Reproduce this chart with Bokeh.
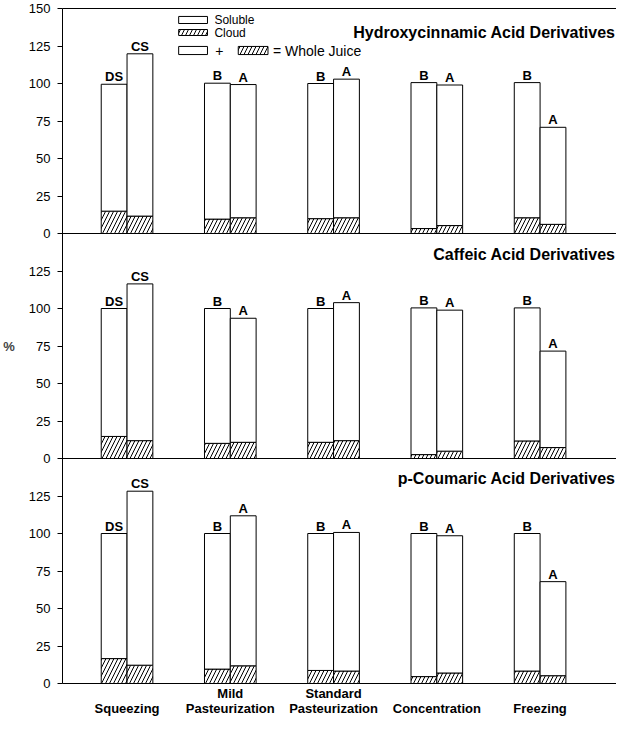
from bokeh.plotting import figure
from bokeh.models import (ColumnDataSource, FixedTicker, LinearAxis, Range1d,
                          Label, LabelSet, BoxAnnotation, Span)
from bokeh.core.properties import value
from bokeh.embed import file_html
from bokeh.resources import INLINE

# ---------------- data ----------------
stages = [" \nSqueezing", "Mild\nPasteurization", "Standard\nPasteurization",
          " \nConcentration", " \nFreezing"]
titles = ["Hydroxycinnamic Acid Derivatives", "Caffeic Acid Derivatives",
          "p-Coumaric Acid Derivatives"]
before_letters = ["DS", "B", "B", "B", "B"]
after_letters = ["CS", "A", "A", "A", "A"]
y_tick_values = [0, 25, 50, 75, 100, 125]

hca_before_total = [99.5, 100.2, 100.0, 100.6, 100.6]
hca_before_cloud = [14.9, 9.6, 9.9, 3.3, 10.5]
hca_after_total = [119.8, 99.3, 102.9, 99.0, 70.8]
hca_after_cloud = [11.6, 10.5, 10.5, 5.3, 6.1]

caf_before_total = [100.0, 100.0, 100.0, 100.4, 100.4]
caf_before_cloud = [14.7, 10.1, 10.8, 2.6, 11.7]
caf_after_total = [116.4, 93.5, 103.9, 98.9, 71.6]
caf_after_cloud = [11.9, 10.8, 11.9, 4.9, 7.3]

pcou_before_total = [100.0, 100.0, 100.0, 100.0, 100.0]
pcou_before_cloud = [16.6, 9.6, 8.7, 4.6, 8.3]
pcou_after_total = [128.2, 111.8, 100.7, 98.5, 67.9]
pcou_after_cloud = [12.2, 11.8, 8.3, 7.0, 5.2]

panels = [
    (hca_before_total, hca_before_cloud, hca_after_total, hca_after_cloud),
    (caf_before_total, caf_before_cloud, caf_after_total, caf_after_cloud),
    (pcou_before_total, pcou_before_cloud, pcou_after_total, pcou_after_cloud),
]

# ---------------- styling ----------------
FONT = "Liberation Sans"
YMAX = 150          # each panel spans 0..150
NP = len(panels)
X0, X1 = -0.625, 4.74
BW = 0.25
HATCH = dict(hatch_pattern="/", hatch_scale=8, hatch_color="black",
             hatch_weight=1, hatch_alpha=1.0)

p = figure(width=616, height=718, x_range=Range1d(X0, X1),
           y_range=Range1d(0, NP * YMAX), output_backend="svg",
           toolbar_location=None, x_axis_location=None,
           min_border_left=58, min_border_right=0,
           min_border_top=8, min_border_bottom=33)
p.outline_line_color = None
p.grid.visible = False
p.background_fill_color = "white"
p.border_fill_color = "white"

# one stacked range per panel (panel 0 on top)
names = []
for k in range(NP):
    off = (NP - 1 - k) * YMAX
    nm = "panel%d" % k
    p.extra_y_ranges[nm] = Range1d(-off, NP * YMAX - off)
    names.append(nm)

# left axis covering the three panels
ticks, over = [], {}
for k in range(NP):
    for v in y_tick_values:
        t = k * YMAX + v
        ticks.append(t)
        over[t] = str(v)
ticks.append(NP * YMAX)
over[NP * YMAX] = str(YMAX)
yax = p.yaxis[0]
yax.ticker = FixedTicker(ticks=ticks)
yax.major_label_overrides = over
yax.major_tick_out = 5
yax.major_tick_in = 0
yax.minor_tick_out = 0
yax.minor_tick_in = 0
yax.major_label_standoff = 7
yax.major_label_text_font = FONT
yax.major_label_text_font_size = "13px"
yax.major_label_text_color = "black"
yax.axis_line_color = "black"
yax.major_tick_line_color = "black"
yax.axis_label = "%"
yax.axis_label_orientation = "horizontal"
yax.axis_label_text_font = FONT
yax.axis_label_text_font_size = "13px"
yax.axis_label_text_font_style = "bold"
yax.axis_label_standoff = 11

# top frame line
p.add_layout(LinearAxis(ticker=FixedTicker(ticks=[]), major_label_text_font_size="0px",
                        major_tick_out=0, major_tick_in=0, minor_tick_out=0,
                        minor_tick_in=0, major_label_standoff=0,
                        axis_line_color="black"), "above")
# bottom axis with stage names
p.add_layout(LinearAxis(ticker=FixedTicker(ticks=list(range(len(stages)))),
                        major_label_overrides={i: s for i, s in enumerate(stages)},
                        major_tick_out=0, major_tick_in=0, minor_tick_out=0,
                        minor_tick_in=0, major_label_standoff=2,
                        major_label_text_font=FONT,
                        major_label_text_font_size="13px",
                        major_label_text_font_style="bold",
                        major_label_text_line_height=1.0,
                        major_label_text_color="black",
                        axis_line_color="black"), "below")

title_y = [134, 136, 137]
xs = list(range(len(stages)))
for k in range(NP):
    nm = names[k]
    # zero line of the upper panels
    if k < NP - 1:
        p.add_layout(Span(location=0, dimension="width", y_range_name=nm,
                          line_color="black", line_width=1))
    bt, bc, at, ac = panels[k]
    src = ColumnDataSource(dict(
        xb=[x - BW / 2 for x in xs], xa=[x + BW / 2 for x in xs],
        bt=bt, bc=bc, at=at, ac=ac,
        lb=before_letters, la=after_letters))
    for xk, tk, ck in (("xb", "bt", "bc"), ("xa", "at", "ac")):
        p.vbar(x=xk, width=BW, bottom=0, top=ck, source=src, y_range_name=nm,
               fill_color="white", line_color="black", line_width=1, **HATCH)
        p.vbar(x=xk, width=BW, bottom=ck, top=tk, source=src, y_range_name=nm,
               fill_color="white", line_color="black", line_width=1)
    for xk, tk, lk in (("xb", "bt", "lb"), ("xa", "at", "la")):
        p.add_layout(LabelSet(x=xk, y=tk, text=lk, source=src, y_offset=3,
                              y_range_name=nm,
                              text_align="center", text_baseline="alphabetic",
                              text_font=value(FONT), text_font_size="13px",
                              text_font_style="bold", text_color="black"))
    p.add_layout(Label(x=4.731, y=title_y[k], y_range_name=nm, text=titles[k],
                       text_align="right", text_baseline="middle",
                       text_font=FONT, text_font_size="16px",
                       text_font_style="bold", text_color="black"))

# legend (top panel)
box = dict(fill_color="white", fill_alpha=1.0, line_color="black", line_width=1,
           line_alpha=1.0, y_range_name=names[0])
p.add_layout(BoxAnnotation(left=0.5, right=0.779, bottom=140, top=144.7, **box))
p.add_layout(BoxAnnotation(left=0.5, right=0.779, bottom=132, top=136, **box, **HATCH))
p.add_layout(BoxAnnotation(left=0.5, right=0.779, bottom=119.3, top=124.7, **box))
p.add_layout(BoxAnnotation(left=1.077, right=1.365, bottom=119.3, top=124.7, **box, **HATCH))
leg = dict(text_baseline="middle", text_font=FONT, text_font_size="12px",
           text_color="black", y_range_name=names[0])
p.add_layout(Label(x=0.846, y=142.3, text="Soluble", **leg))
p.add_layout(Label(x=0.846, y=134, text="Cloud", **leg))
p.add_layout(Label(x=0.894, y=122, text="+", text_align="center",
                   **dict(leg, text_font_size="14px")))
p.add_layout(Label(x=1.413, y=122, text="= Whole Juice",
                   **dict(leg, text_font_size="14px")))

open("out.html", "w").write(file_html(p, INLINE))
